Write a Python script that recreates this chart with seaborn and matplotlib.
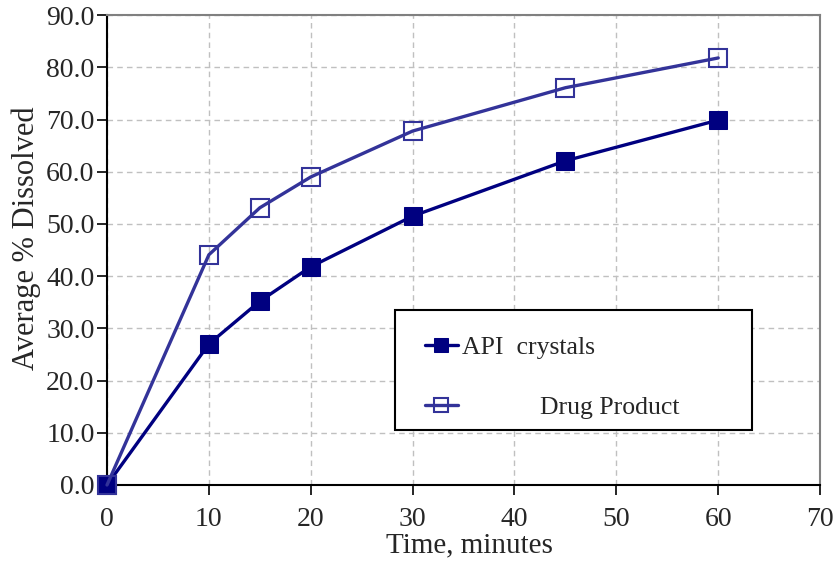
import matplotlib
matplotlib.use("Agg")
import matplotlib.pyplot as plt
from matplotlib.patches import Rectangle
import seaborn as sns
import pandas as pd

time = [0, 10, 15, 20, 30, 45, 60]
api_crystals = [0.0, 27.0, 35.2, 41.8, 51.5, 62.1, 69.9]
drug_product = [0.0, 44.1, 53.1, 59.0, 67.8, 76.1, 81.8]
labels = ["API  crystals", "            Drug Product"]

sns.set_style("white")
plt.rcParams['font.family'] = ['Liberation Serif', 'DejaVu Serif']

fig = plt.figure(figsize=(8.36, 5.61), dpi=100)
ax = fig.add_axes([0.128, 0.1355, 0.853, 0.8375])

df_api = pd.DataFrame({"t": time, "v": api_crystals})
df_drug = pd.DataFrame({"t": time, "v": drug_product})

sns.lineplot(data=df_api, x="t", y="v", ax=ax, color="#000080", linewidth=2.4,
             marker="s", markersize=13, markerfacecolor="#000080",
             markeredgecolor="#000080", label=labels[0], clip_on=False, zorder=4)
sns.lineplot(data=df_drug, x="t", y="v", ax=ax, color="#333399", linewidth=2.4,
             marker="s", markersize=13, markerfacecolor="none",
             markeredgecolor="#333399", markeredgewidth=1.5,
             label=labels[1], clip_on=False, zorder=5)

ax.set_xlim(0, 70)
ax.set_ylim(0, 90)
ax.set_xticks(range(0, 71, 10))
ax.set_yticks(range(0, 91, 10))
ax.set_yticklabels([f"{v:.1f}" for v in range(0, 91, 10)])
ax.grid(True, linestyle=(0, (4, 3)), color="#c0c0c0", linewidth=1)
ax.set_axisbelow(True)

for s in ["left", "bottom"]:
    ax.spines[s].set_color("black")
    ax.spines[s].set_linewidth(1.5)
for s in ["top", "right"]:
    ax.spines[s].set_color("#808080")
    ax.spines[s].set_linewidth(1.5)

ax.tick_params(axis="both", direction="out", length=7, width=1.2,
               labelsize=20, color="black", left=True, bottom=True)
ax.tick_params(axis="x", pad=9)
ax.tick_params(axis="y", pad=2)
ax.set_xlabel("Time, minutes", fontsize=21)
ax.xaxis.set_label_coords(0.508, -0.101, transform=ax.transAxes)
ax.xaxis.label.set_va("top")
ax.set_ylabel("Average % Dissolved", fontsize=22)
ax.yaxis.set_label_coords(-0.093, 0.525, transform=ax.transAxes)

# legend frame
ax.add_patch(Rectangle((0.404, 0.117), 0.501, 0.255, transform=ax.transAxes,
                       facecolor="white", edgecolor="black", linewidth=1.5,
                       zorder=6, clip_on=False))
leg = ax.legend(loc="upper left", bbox_to_anchor=(0.446, 0.317),
                frameon=False, fontsize=18.5, borderpad=0, borderaxespad=0,
                labelspacing=1.44, handlelength=1.28, handletextpad=0.15,
                markerscale=0.75)
leg.set_zorder(7)

fig.savefig("out.png", dpi=100)
